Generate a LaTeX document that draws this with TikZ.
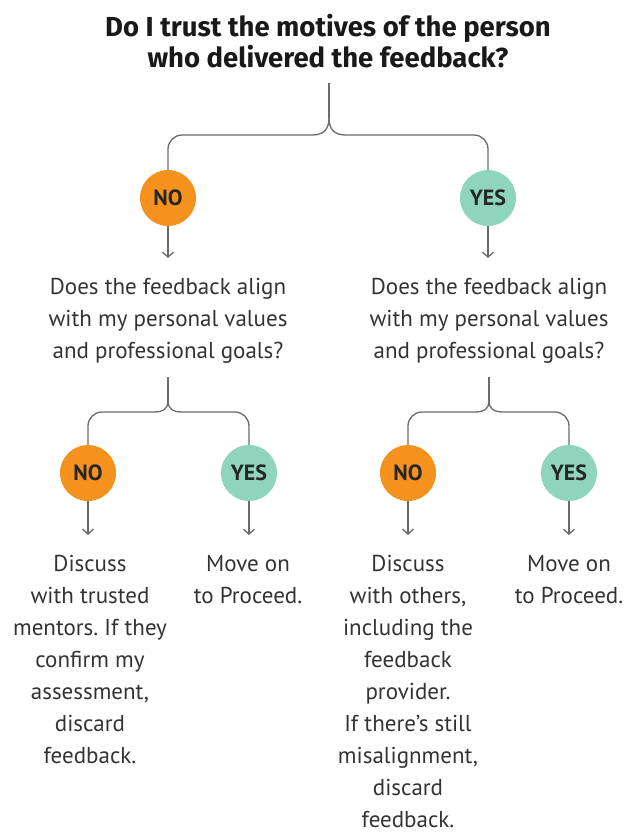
\documentclass[tikz,border=0pt]{standalone}
\usepackage{fontspec}
\setmainfont{PT Sans}
\newfontfamily\headfont{Fira Sans}
\usetikzlibrary{arrows.meta}
\definecolor{nocol}{HTML}{F5921E}
\definecolor{yescol}{HTML}{8FD5BD}
\definecolor{linecol}{HTML}{6A6A6A}
\definecolor{txtcol}{HTML}{333333}
\frenchspacing
\begin{document}
\begin{tikzpicture}[x=1pt,y=-1pt]
	\tikzstyle{every node}+=[inner sep=0pt]
	\tikzstyle{conn}=[draw=linecol, line width=1.3pt]
	\tikzstyle{arr}=[conn, -{Straight Barb[length=5pt,width=11pt,line width=1.3pt]}]
	\tikzstyle{ans}=[circle, minimum size=56pt, text=black!85, font=\fontsize{22}{22}\selectfont\bfseries]
	\tikzstyle{nobox}=[ans, fill=nocol]
	\tikzstyle{yesbox}=[ans, fill=yescol]
	\tikzstyle{txt}=[anchor=north, align=center, text=txtcol, font=\fontsize{23}{32}\selectfont]
	\useasboundingbox (0,0) rectangle (628,833);
	% question at the top
	\node [align=center, text=black!90, font=\headfont\bfseries\fontsize{27.5}{31}\selectfont] (top) at (328,41) {Do I trust the motives of the person\\who delivered the feedback?};
	\coordinate (t0) at (329,83);
	\coordinate (j0) at (329,118);
	\node [nobox] (n0) at (168,198) {NO};
	\node [yesbox] (y0) at (488,198) {YES};
	\draw [conn] (t0) -- (j0);
	\draw [conn] (j0) .. controls (329,129) and (324,135) .. (312,135) [rounded corners=14pt] -| (n0.north);
	\draw [conn] (j0) .. controls (329,129) and (334,135) .. (346,135) [rounded corners=14pt] -| (y0.north);
	\coordinate (n0e) at (168,258);
	\coordinate (y0e) at (488,258);
	\draw [arr] (n0.south) -- (n0e);
	\draw [arr] (y0.south) -- (y0e);
	% second questions
	\node [txt] (qa) at (168,278) {Does the feedback align\\with my personal values\\and professional goals?};
	\node [txt] (qb) at (489,278) {Does the feedback align\\with my personal values\\and professional goals?};
	\coordinate (ta) at (168,377);
	\coordinate (ja) at (168,401);
	\coordinate (tb) at (489,377);
	\coordinate (jb) at (489,401);
	\node [nobox] (n1) at (88,473) {NO};
	\node [yesbox] (y1) at (249,473) {YES};
	\node [nobox] (n2) at (408,473) {NO};
	\node [yesbox] (y2) at (569,473) {YES};
	\draw [conn] (ta) -- (ja);
	\draw [conn] (ja) .. controls (168,408) and (164,412) .. (154,412) [rounded corners=14pt] -| (n1.north);
	\draw [conn] (ja) .. controls (168,408) and (172,412) .. (182,412) [rounded corners=14pt] -| (y1.north);
	\draw [conn] (tb) -- (jb);
	\draw [conn] (jb) .. controls (489,408) and (485,412) .. (475,412) [rounded corners=14pt] -| (n2.north);
	\draw [conn] (jb) .. controls (489,408) and (493,412) .. (503,412) [rounded corners=14pt] -| (y2.north);
	\coordinate (n1e) at (88,535);
	\coordinate (y1e) at (249,535);
	\coordinate (n2e) at (408,535);
	\coordinate (y2e) at (569,535);
	\draw [arr] (n1.south) -- (n1e);
	\draw [arr] (y1.south) -- (y1e);
	\draw [arr] (n2.south) -- (n2e);
	\draw [arr] (y2.south) -- (y2e);
	% outcomes
	\node [txt] (ra) at (90,555) {Discuss\\with trusted\\mentors. If they\\confirm my\\assessment,\\discard\\feedback.};
	\node [txt] (rb) at (248,555) {Move on\\to Proceed.};
	\node [txt] (rc) at (408,555) {Discuss\\with others,\\including the\\feedback\\provider.\\If there's still\\misalignment,\\discard\\feedback.};
	\node [txt] (rd) at (569,555) {Move on\\to Proceed.};
\end{tikzpicture}
\end{document}
